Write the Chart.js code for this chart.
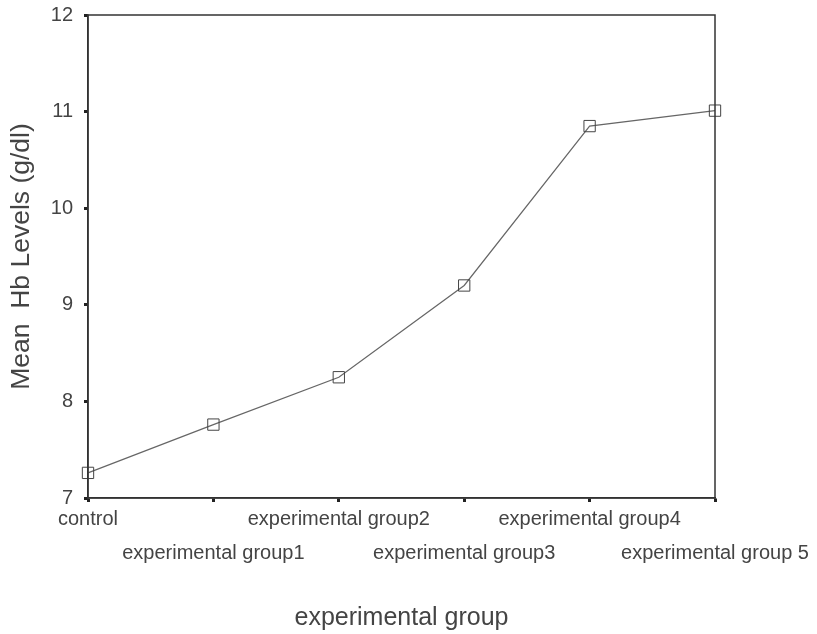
<!DOCTYPE html>
<html>
<head>
<meta charset="utf-8">
<script src="https://cdn.jsdelivr.net/npm/chart.js@4"></script>
<style>
  html, body { margin: 0; padding: 0; background: #fff; }
  #wrap { width: 817px; height: 634px; }
</style>
</head>
<body>
<div id="wrap"><canvas id="hb"></canvas></div>
<script>
const groups = ['control', 'experimental group1', 'experimental group2', 'experimental group3', 'experimental group4', 'experimental group 5']
const meanHb = [7.26, 7.76, 8.25, 9.2, 10.85, 11.01]
const yTicks = [7, 8, 9, 10, 11, 12]

const textColor = '#444'
const font = 'Liberation Sans, Arial, sans-serif'

// box round the plot area, like the original SPSS frame
const frame = {
    id: 'frame',
    afterDraw(chart) {
        const a = chart.chartArea
        const ctx = chart.ctx
        ctx.save()
        ctx.strokeStyle = '#333'
        ctx.lineWidth = 1.5
        ctx.strokeRect(a.left, a.top, a.right - a.left, a.bottom - a.top)
        ctx.restore()
    }
}

const ctx = document.getElementById('hb').getContext('2d')
new Chart(ctx, {
    type: 'line',
    data: {
        labels: groups,
        datasets: [{
            data: meanHb,
            borderColor: '#666',
            borderWidth: 1.2,
            tension: 0,
            pointStyle: 'rect',
            pointRadius: 8,
            pointBorderWidth: 1,
            pointBorderColor: '#444',
            pointBackgroundColor: 'rgba(255,255,255,0)',
        }]
    },
    options: {
        responsive: true,
        maintainAspectRatio: false,
        animation: false,
        layout: { padding: { top: 15, right: 102, bottom: 0, left: 0 } },
        plugins: {
            legend: { display: false },
            tooltip: { enabled: false }
        },
        scales: {
            x: {
                type: 'category',
                offset: false,
                grid: { drawOnChartArea: false, tickLength: 4, tickColor: '#222', tickWidth: 3 },
                border: { color: '#333', width: 1.5 },
                ticks: {
                    color: textColor,
                    font: { family: font, size: 20, lineHeight: 1.7 },
                    padding: 0,
                    maxRotation: 0,
                    autoSkip: false,
                    callback: (v, i) => i % 2 === 0 ? [groups[i], ''] : ['', groups[i]]
                },
                title: {
                    display: true,
                    text: 'experimental group',
                    color: textColor,
                    font: { family: font, size: 25 },
                    padding: { top: 0, bottom: 1 }
                },
                afterFit: s => { s.height = 634 - 498 }
            },
            y: {
                min: 7,
                max: 12,
                afterBuildTicks: s => { s.ticks = yTicks.map(v => ({ value: v })) },
                grid: { drawOnChartArea: false, tickLength: 4, tickColor: '#222', tickWidth: 3 },
                border: { color: '#333', width: 1.5 },
                ticks: {
                    color: textColor,
                    // small lineHeight keeps the top label from pushing the plot down
                    font: { family: font, size: 20, lineHeight: 0.3 },
                    padding: 11
                },
                title: {
                    display: true,
                    text: 'Mean  Hb Levels (g/dl)',
                    color: textColor,
                    font: { family: font, size: 26.5 },
                    padding: { top: 6, bottom: 0 }
                },
                afterFit: s => { s.width = 88 }
            }
        }
    },
    plugins: [frame]
})
</script>
</body>
</html>
